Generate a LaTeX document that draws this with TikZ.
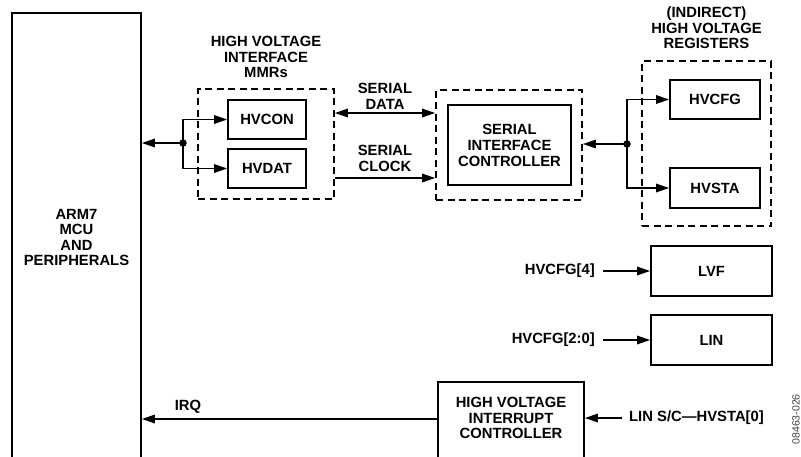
\documentclass[tikz,border=0pt]{standalone}
\usepackage{fontspec}
\setmainfont{Liberation Sans}
\usetikzlibrary{arrows.meta,calc}
\begin{document}
\begin{tikzpicture}[x=1pt,y=-1pt,
  lbl/.style={font=\fontsize{14.8}{15.5}\selectfont\bfseries, align=center, inner sep=0pt},
  blk/.style={draw, line width=1.8pt, lbl},
  dbox/.style={draw, line width=1.7pt, dash pattern=on 7pt off 4.5pt, inner sep=0pt},
  conn/.style={line width=1.6pt},
  arr/.style={conn, -{Triangle[length=13pt,width=8.5pt]}},
  arrb/.style={conn, {Triangle[length=13pt,width=8.5pt]}-{Triangle[length=13pt,width=8.5pt]}},
  dot/.style={circle, fill, inner sep=0pt, minimum size=7.5pt}]
\useasboundingbox (0,0) rectangle (801,456);

% blocks
\node[blk, minimum width=129, minimum height=449] (arm) at (76.5,237.5) {ARM7\\MCU\\AND\\PERIPHERALS};
\node[dbox, minimum width=136, minimum height=110] (mmr) at (266,144) {};
\node[blk, minimum width=78, minimum height=39] (hvcon) at (267,119.5) {HVCON};
\node[blk, minimum width=78, minimum height=39] (hvdat) at (267,168.5) {HVDAT};
\node[dbox, minimum width=146, minimum height=110] (sicd) at (509,145) {};
\node[blk, minimum width=123, minimum height=80, font=\fontsize{14.8}{16}\selectfont\bfseries] (sic) at (509.5,145) {SERIAL\\INTERFACE\\CONTROLLER};
\node[dbox, minimum width=129, minimum height=165] (regd) at (706.5,143.5) {};
\node[blk, minimum width=90, minimum height=39] (hvcfg) at (715,99.5) {HVCFG};
\node[blk, minimum width=90, minimum height=40] (hvsta) at (715,188) {HVSTA};
\node[blk, minimum width=121, minimum height=50] (lvf) at (711.5,271) {LVF};
\node[blk, minimum width=121, minimum height=50] (lin) at (711.5,340) {LIN};
\node[draw, line width=1.8pt, minimum width=146, minimum height=80] (hvic) at (511,422) {};
\node[lbl] (hvictext) at (511,418) {HIGH VOLTAGE\\INTERRUPT\\CONTROLLER};

% labels
\node[lbl] (mmrlbl) at (266,57) {HIGH VOLTAGE\\INTERFACE\\MMRs};
\node[lbl] (reglbl) at (706.5,28) {(INDIRECT)\\HIGH VOLTAGE\\REGISTERS};
\node[lbl, font=\fontsize{14.8}{16}\selectfont\bfseries] (sdlbl) at (385,96) {SERIAL\\DATA};
\node[lbl, font=\fontsize{14.8}{16}\selectfont\bfseries] (sclbl) at (385,158) {SERIAL\\CLOCK};
\node[lbl, anchor=east] (c4) at (595,271) {HVCFG[4]};
\node[lbl, anchor=east] (c20) at (595,340) {HVCFG[2:0]};
\node[lbl, anchor=west] (linsc) at (629,418) {LIN S/C—HVSTA[0]};
\node[lbl] (irqlbl) at (188,407) {IRQ};
\node[inner sep=0pt, rotate=90, anchor=east, text=black!75, font=\fontsize{10.5}{11}\selectfont] (code) at (796,394) {08463-026};

% coordinates
\coordinate (jl) at (183,143);
\coordinate (jr) at (627,144);
\coordinate (sd) at (0,113);
\coordinate (sc) at (0,178);
\coordinate (irq) at (0,419);

% connectors
\draw[arr] (jl) -- (arm.east |- jl);
\draw[arr] (jl) |- (hvcon.west);
\draw[arr] (jl) |- (hvdat.west);
\node[dot] (jldot) at (jl) {};
\draw[arrb] (mmr.east |- sd) -- (sicd.west |- sd);
\draw[arr] (mmr.east |- sc) -- (sicd.west |- sc);
\draw[arr] (jr) -- (sicd.east |- jr);
\draw[arr] (jr) |- (hvcfg.west);
\draw[arr] (jr) |- (hvsta.west);
\node[dot] (jrdot) at (jr) {};
\draw[arr] ([xshift=8]c4.east) -- (lvf.west);
\draw[arr] ([xshift=8]c20.east) -- (lin.west);
\draw[arr] ([xshift=-7]linsc.west) -- (hvic.east |- linsc.west);
\draw[arr] (hvic.west |- irq) -- (arm.east |- irq);
\end{tikzpicture}
\end{document}
